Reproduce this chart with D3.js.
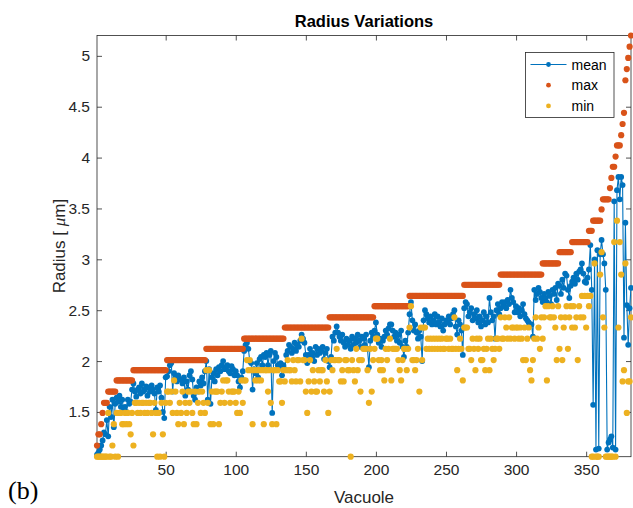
<!DOCTYPE html>
<html><head><meta charset="utf-8">
<script src="https://cdn.jsdelivr.net/npm/d3@7"></script>
<style>body{margin:0;background:#fff}</style>
</head><body>
<svg id="chart" width="633" height="508"></svg>
<script>
const meanR = [
1.08,1.10,1.13,1.17,1.22,1.30,1.28,1.42,1.26,1.55,
1.45,1.62,1.35,1.58,1.64,1.60,1.66,1.55,1.62,1.52,
1.55,1.50,1.62,1.58,1.60,1.72,1.78,1.70,1.65,1.72,
1.74,1.68,1.78,1.70,1.72,1.75,1.66,1.74,1.70,1.76,
1.72,1.68,1.52,1.74,1.70,1.76,1.64,1.50,1.44,1.84,
1.85,1.90,1.96,1.98,1.70,1.88,1.84,1.80,1.86,1.82,
1.82,1.78,1.84,1.66,1.80,1.72,1.86,1.90,1.82,1.66,
1.62,1.74,1.70,1.80,1.76,1.84,1.78,1.90,2.00,1.62,
1.92,1.58,1.84,1.88,1.80,1.92,1.86,1.94,1.90,1.96,
2.00,1.92,1.94,1.96,1.90,1.88,1.95,1.92,1.86,1.90,
1.86,1.80,1.74,1.84,1.90,2.10,2.16,2.18,2.12,2.00,
1.98,1.72,1.92,1.88,1.98,1.84,2.02,2.04,1.96,2.06,
2.04,2.08,1.96,2.06,2.10,1.49,2.00,2.08,2.04,1.96,
1.94,1.98,1.86,1.96,1.92,2.06,2.10,2.16,2.14,2.08,
2.12,2.18,2.10,2.16,2.14,2.20,2.26,2.22,2.18,2.06,
1.98,2.06,2.12,2.04,2.08,2.00,2.14,2.06,2.12,2.08,
2.10,2.14,2.02,2.08,2.12,2.00,1.94,2.04,2.24,2.20,
2.28,2.34,2.28,2.24,2.20,2.26,2.18,2.14,2.22,2.16,
2.20,2.12,2.24,2.16,2.22,2.18,2.26,2.20,2.14,2.24,
2.22,2.16,2.26,2.12,1.94,2.20,2.28,2.24,2.30,2.38,
2.26,2.18,2.22,2.14,2.20,2.24,2.30,2.26,2.32,2.36,
2.36,2.30,2.24,2.28,2.20,2.26,2.18,2.30,2.14,2.04,
2.20,2.14,2.28,2.46,2.58,2.40,2.30,2.36,2.28,2.22,
2.30,2.24,2.00,2.40,2.50,2.46,2.42,2.38,2.44,2.36,
2.40,2.46,2.36,2.44,2.38,2.34,2.42,2.30,2.36,2.40,
2.38,2.44,2.36,2.42,2.46,2.50,2.34,2.26,2.40,2.36,
2.30,2.06,2.52,2.58,2.56,2.44,2.48,2.52,2.40,2.46,
2.42,2.50,2.38,2.44,2.34,2.40,2.48,2.36,2.44,2.38,
2.62,2.48,2.40,2.44,2.22,2.50,2.56,2.46,2.52,2.58,
2.54,2.58,2.52,2.60,2.56,2.70,2.62,2.58,2.48,2.54,
2.48,2.52,2.44,2.50,2.56,2.46,2.42,2.40,2.38,2.36,
2.36,2.24,2.70,2.60,2.66,2.72,2.68,2.62,2.58,2.66,
2.62,2.58,2.68,2.64,2.56,2.70,2.66,2.72,2.60,2.76,
2.74,2.66,2.80,2.72,2.86,2.84,2.70,2.62,2.74,2.78,
2.82,2.76,2.86,2.80,2.88,2.90,2.96,2.86,2.78,2.77,
2.82,2.90,3.14,2.70,1.57,3.00,1.13,3.09,1.14,3.05,
3.19,3.05,2.96,2.70,1.13,1.20,1.23,1.26,1.15,3.57,
1.13,3.68,3.81,3.59,3.81,3.73,2.23,3.36,2.55,2.16,
2.52,2.72
];
const maxR = [
1.17,1.28,1.28,1.38,1.49,1.59,1.59,1.59,1.70,1.70,
1.70,1.70,1.70,1.70,1.81,1.81,1.81,1.81,1.81,1.81,
1.81,1.81,1.81,1.81,1.81,1.81,1.91,1.91,1.91,1.91,
1.91,1.91,1.91,1.91,1.91,1.91,1.91,1.91,1.91,1.91,
1.91,1.91,1.91,1.91,1.91,1.91,1.91,1.91,1.91,1.91,
2.01,2.01,2.01,2.01,2.01,2.01,2.01,2.01,2.01,2.01,
2.01,2.01,2.01,2.01,2.01,2.01,2.01,2.01,2.01,2.01,
2.01,2.01,2.01,2.01,2.01,2.01,2.01,2.01,2.12,2.12,
2.12,2.12,2.12,2.12,2.12,2.12,2.12,2.12,2.12,2.12,
2.12,2.12,2.12,2.12,2.12,2.12,2.12,2.12,2.12,2.12,
2.12,2.12,2.12,2.12,2.12,2.22,2.22,2.22,2.22,2.22,
2.22,2.22,2.22,2.22,2.22,2.22,2.22,2.22,2.22,2.22,
2.22,2.22,2.22,2.22,2.22,2.22,2.22,2.22,2.22,2.22,
2.22,2.22,2.22,2.22,2.33,2.33,2.33,2.33,2.33,2.33,
2.33,2.33,2.33,2.33,2.33,2.33,2.33,2.33,2.33,2.33,
2.33,2.33,2.33,2.33,2.33,2.33,2.33,2.33,2.33,2.33,
2.33,2.33,2.33,2.33,2.33,2.33,2.43,2.43,2.43,2.43,
2.43,2.43,2.43,2.43,2.43,2.43,2.43,2.43,2.43,2.43,
2.43,2.43,2.43,2.43,2.43,2.43,2.43,2.43,2.43,2.43,
2.43,2.43,2.43,2.43,2.43,2.43,2.43,2.43,2.54,2.54,
2.54,2.54,2.54,2.54,2.54,2.54,2.54,2.54,2.54,2.54,
2.54,2.54,2.54,2.54,2.54,2.54,2.54,2.54,2.54,2.54,
2.54,2.54,2.54,2.64,2.64,2.64,2.64,2.64,2.64,2.64,
2.64,2.64,2.64,2.64,2.64,2.64,2.64,2.64,2.64,2.64,
2.64,2.64,2.64,2.64,2.64,2.64,2.64,2.64,2.64,2.64,
2.64,2.64,2.64,2.64,2.64,2.64,2.64,2.64,2.64,2.64,
2.64,2.64,2.75,2.75,2.75,2.75,2.75,2.75,2.75,2.75,
2.75,2.75,2.75,2.75,2.75,2.75,2.75,2.75,2.75,2.75,
2.75,2.75,2.75,2.75,2.75,2.75,2.75,2.75,2.85,2.85,
2.85,2.85,2.85,2.85,2.85,2.85,2.85,2.85,2.85,2.85,
2.85,2.85,2.85,2.85,2.85,2.85,2.85,2.85,2.85,2.85,
2.85,2.85,2.85,2.85,2.85,2.85,2.85,2.85,2.96,2.96,
2.96,2.96,2.96,2.96,2.96,2.96,2.96,2.96,2.96,2.96,
3.07,3.07,3.07,3.07,3.07,3.07,3.07,3.07,3.07,3.17,
3.17,3.17,3.17,3.17,3.17,3.17,3.17,3.17,3.17,3.17,
3.17,3.28,3.28,3.28,3.38,3.38,3.38,3.38,3.38,3.38,
3.49,3.59,3.59,3.59,3.59,3.59,3.70,3.80,3.91,3.91,
4.01,4.12,4.12,4.12,4.22,4.33,4.44,4.76,4.87,4.98,
5.09,5.20
];
const minR = [
1.06,1.06,1.06,1.06,1.06,1.06,1.06,1.06,1.49,1.06,
1.06,1.17,1.38,1.06,1.49,1.06,1.49,1.49,1.38,1.38,
1.49,1.38,1.49,1.38,1.28,1.49,1.17,1.59,1.59,1.49,
1.59,1.49,1.59,1.59,1.49,1.59,1.49,1.59,1.59,1.49,
1.28,1.59,1.49,1.06,1.49,1.06,1.59,1.28,1.06,1.59,
1.70,1.70,1.59,1.70,1.49,1.81,1.70,1.49,1.38,1.59,
1.49,1.70,1.38,1.59,1.49,1.70,1.59,1.70,1.49,1.38,
1.70,1.38,1.59,1.70,1.49,1.70,1.59,1.49,1.91,1.59,
1.91,1.38,1.70,1.38,1.70,1.70,1.70,1.38,1.59,1.70,
1.81,1.59,1.81,1.81,1.70,1.59,1.70,1.70,1.70,1.59,
1.49,1.70,1.49,1.81,1.59,1.81,1.81,2.01,1.91,2.01,
1.91,1.38,1.91,1.81,1.91,1.81,1.91,1.81,1.91,1.38,
1.91,1.91,1.70,1.91,1.59,1.38,1.91,1.91,1.38,1.91,
1.80,1.80,1.59,1.91,1.80,1.91,2.01,1.91,1.91,1.80,
2.01,1.91,1.80,2.01,2.01,1.80,2.22,2.01,2.01,1.70,
1.49,1.80,2.01,1.70,1.91,1.80,1.70,1.70,1.91,1.80,
1.91,1.91,1.70,2.01,1.80,1.49,1.70,2.01,1.91,2.01,
2.01,2.12,2.01,2.01,1.80,1.91,1.80,2.01,2.01,1.91,
1.91,1.06,2.01,1.91,1.80,2.12,1.91,2.01,1.70,2.01,
2.12,2.12,2.12,1.91,1.59,2.12,1.70,2.01,2.12,2.22,
2.22,2.01,1.91,2.01,1.91,1.81,2.12,2.01,2.12,2.22,
1.81,2.12,2.12,2.12,2.12,2.01,1.91,1.81,2.01,2.12,
2.12,1.91,2.12,2.33,2.54,2.01,2.01,1.91,2.01,2.12,
1.70,2.33,2.01,2.33,2.33,2.12,2.22,2.12,2.22,2.12,
2.22,2.12,2.22,2.12,2.22,2.12,2.22,2.12,2.12,2.22,
2.22,2.12,2.22,2.12,2.12,2.43,2.12,1.91,2.12,2.22,
2.12,1.81,2.33,2.33,2.33,2.12,2.12,2.01,2.22,2.12,
1.91,2.22,2.12,2.22,2.01,2.01,2.12,1.91,2.12,2.22,
1.91,2.22,2.12,2.01,2.12,2.22,2.22,2.12,2.43,2.22,
2.22,2.43,2.33,2.22,2.43,2.22,2.33,2.33,2.22,2.33,
2.33,2.22,2.33,2.22,2.01,2.33,2.01,2.22,2.33,1.91,
1.81,2.01,2.22,2.43,2.22,2.33,2.12,2.43,2.22,2.43,
2.54,1.81,2.54,2.43,2.43,2.54,2.43,2.33,2.01,2.54,
2.12,2.43,2.01,2.33,2.43,2.54,2.12,2.43,2.54,2.33,
2.54,2.33,2.43,2.01,2.54,2.43,2.64,2.43,2.64,2.33,
2.64,2.54,2.64,1.06,1.06,2.96,1.06,1.06,1.06,2.85,
3.07,2.43,2.33,1.06,1.06,1.06,1.06,1.06,1.06,3.17,
1.06,3.38,2.33,3.17,2.85,1.80,1.91,2.96,1.49,1.80,
1.80,2.43
];
const xTicks = [50, 100, 150, 200, 250, 300, 350];
const yTicks = [1.5, 2, 2.5, 3, 3.5, 4, 4.5, 5];
const seriesNames = ["mean", "max", "min"];
const colors = {mean: "#0072BD", max: "#D95319", min: "#EDB120"};

const svg = d3.select("#chart");
svg.append("rect").attr("width", 633).attr("height", 508).attr("fill", "#fff");
const L = 97, R = 631, T = 35.5, B = 456.7;
const n = meanR.length;
const idx = d3.range(1, n + 1);
const x = d3.scaleLinear().domain([1, n]).range([L, R]);
const y = d3.scaleLinear().domain([d3.min(minR), d3.max(maxR)]).range([B, T]);
const font = "'Liberation Sans', Arial, Helvetica, sans-serif";
const axisCol = "#262626";

function styleAxis(g) {
  g.select(".domain").remove();
  g.selectAll(".tick line").attr("stroke", axisCol).attr("stroke-width", 0.8);
  g.selectAll(".tick text").attr("fill", axisCol).style("font-family", font).style("font-size", "15.5px");
}
svg.append("g").attr("transform", `translate(0,${B})`)
  .call(d3.axisBottom(x).tickValues(xTicks).tickFormat(d => d).tickSize(-5).tickPadding(7))
  .call(styleAxis);
svg.append("g").attr("transform", `translate(0,${T})`)
  .call(d3.axisTop(x).tickValues(xTicks).tickFormat("").tickSize(-5))
  .call(styleAxis);
svg.append("g").attr("transform", `translate(${L},0)`)
  .call(d3.axisLeft(y).tickValues(yTicks).tickFormat(d => d).tickSize(-5).tickPadding(7))
  .call(styleAxis);
svg.append("g").attr("transform", `translate(${R},0)`)
  .call(d3.axisRight(y).tickValues(yTicks).tickFormat("").tickSize(-5))
  .call(styleAxis);
svg.append("rect").attr("x", L).attr("y", T).attr("width", R - L).attr("height", B - T)
  .attr("fill", "none").attr("stroke", axisCol).attr("stroke-width", 0.8);

svg.append("defs").append("clipPath").attr("id", "clip")
  .append("rect").attr("x", L).attr("y", T).attr("width", R - L).attr("height", B - T);
const line = d3.line().x((d, i) => x(idx[i])).y(d => y(d));
svg.append("path").datum(meanR).attr("d", line).attr("fill", "none")
  .attr("stroke", colors.mean).attr("stroke-width", 1.1).attr("clip-path", "url(#clip)");
svg.append("g").selectAll("circle").data(meanR).join("circle")
  .attr("cx", (d, i) => x(idx[i])).attr("cy", d => y(d)).attr("r", 2.9).attr("fill", colors.mean);
svg.append("g").selectAll("circle").data(maxR).join("circle")
  .attr("cx", (d, i) => x(idx[i])).attr("cy", d => y(d)).attr("r", 3.1).attr("fill", colors.max);
svg.append("g").selectAll("circle").data(minR).join("circle")
  .attr("cx", (d, i) => x(idx[i])).attr("cy", d => y(d)).attr("r", 3.1).attr("fill", colors.min);

svg.append("text").attr("x", (L + R) / 2).attr("y", 27).attr("text-anchor", "middle")
  .style("font-family", font).style("font-size", "16.5px").style("font-weight", "bold")
  .attr("fill", "#000").text("Radius Variations");
svg.append("text").attr("x", (L + R) / 2).attr("y", 503).attr("text-anchor", "middle")
  .style("font-family", font).style("font-size", "17px").attr("fill", axisCol).text("Vacuole");
const yl = svg.append("text").attr("transform", `translate(65,${(T + B) / 2}) rotate(-90)`)
  .attr("text-anchor", "middle").style("font-family", font).style("font-size", "17px").attr("fill", axisCol);
yl.append("tspan").text("Radius [ ");
yl.append("tspan").style("font-style", "italic").style("font-family", "'Liberation Serif', 'DejaVu Serif', serif").text("μ");
yl.append("tspan").text("m]");
svg.append("text").attr("x", 8).attr("y", 499)
  .style("font-family", "'Liberation Serif', 'DejaVu Serif', serif").style("font-size", "26px")
  .attr("fill", "#000").text("(b)");

const lg = svg.append("g");
lg.append("rect").attr("x", 525.5).attr("y", 52.5).attr("width", 88.5).attr("height", 65)
  .attr("fill", "#fff").attr("stroke", axisCol).attr("stroke-width", 0.8);
seriesNames.forEach((s, i) => {
  const cy = 64.5 + i * 20.7;
  if (s === "mean") {
    lg.append("line").attr("x1", 530.5).attr("x2", 566.5).attr("y1", cy).attr("y2", cy)
      .attr("stroke", colors[s]).attr("stroke-width", 1);
  }
  lg.append("circle").attr("cx", 548.5).attr("cy", cy).attr("r", 2.4).attr("fill", colors[s]);
  lg.append("text").attr("x", 571.5).attr("y", cy + 5).style("font-family", font)
    .style("font-size", "14px").attr("fill", "#000").text(s);
});
</script>
</body></html>
